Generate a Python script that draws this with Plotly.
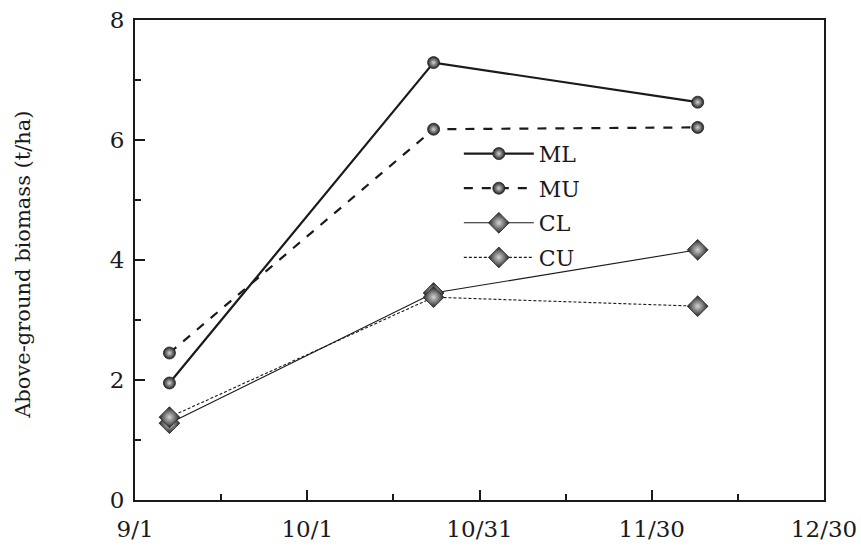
import plotly.graph_objects as go

dates = ["2023-09-07", "2023-10-23", "2023-12-08"]
series_names = ["ML", "MU", "CL", "CU"]
ml = [1.95, 7.29, 6.63]
mu = [2.45, 6.18, 6.21]
cl = [1.28, 3.45, 4.17]
cu = [1.38, 3.38, 3.23]

tick_dates = ["2023-09-01", "2023-10-01", "2023-10-31", "2023-11-30", "2023-12-30"]
tick_labels = ["9/1", "10/1", "10/31", "11/30", "12/30"]
minor_dates = ["2023-09-16", "2023-10-16", "2023-11-15", "2023-12-15"]

font = "DejaVu Serif"
styles = {
    "ML": dict(dash="solid", width=2.2, symbol="circle", size=12),
    "MU": dict(dash="dash", width=2.2, symbol="circle", size=12),
    "CL": dict(dash="solid", width=1.1, symbol="diamond", size=16),
    "CU": dict(dash="3px,2px", width=1.1, symbol="diamond", size=16),
}

fig = go.Figure()
for name, vals in zip(series_names, [ml, mu, cl, cu]):
    s = styles[name]
    fig.add_trace(go.Scatter(
        x=dates, y=vals, name=name, mode="lines+markers", legendgroup=name,
        line=dict(color="#1a1a1a", width=s["width"], dash=s["dash"]),
        marker=dict(symbol=s["symbol"], size=s["size"], color="#222222",
                    gradient=dict(type="radial", color="#d4d4d4"),
                    line=dict(color="#222222", width=0.8)),
    ))

fig.update_layout(
    width=861, height=547,
    margin=dict(l=135, r=37, t=20, b=47),
    paper_bgcolor="white", plot_bgcolor="white",
    font=dict(family=font, size=22, color="#1a1a1a"),
    showlegend=True,
    legend=dict(x=0.47, y=0.765, xanchor="left", yanchor="top",
                bgcolor="rgba(0,0,0,0)", font=dict(size=22, family=font),
                itemwidth=70, tracegroupgap=3),
    xaxis=dict(type="date", range=["2023-09-01", "2023-12-30"], automargin=False,
               tickvals=tick_dates, ticktext=tick_labels,
               showgrid=False, zeroline=False, showline=True, mirror=True,
               linecolor="#1a1a1a", linewidth=2,
               ticks="inside", ticklen=10, tickwidth=1.5, tickcolor="#1a1a1a",
               minor=dict(tickvals=minor_dates, ticks="inside", ticklen=6,
                          tickwidth=1.5, tickcolor="#1a1a1a"),
               ticklabelstandoff=7,
               tickfont=dict(size=23, family=font)),
    yaxis=dict(range=[0, 8], tickvals=[0, 2, 4, 6, 8], automargin=False,
               showgrid=False, zeroline=False, showline=True, mirror=True,
               linecolor="#1a1a1a", linewidth=2,
               ticks="inside", ticklen=10, tickwidth=1.5, tickcolor="#1a1a1a",
               minor=dict(tickvals=[1, 3, 5, 7], ticks="inside", ticklen=6,
                          tickwidth=1.5, tickcolor="#1a1a1a"),
               ticklabelstandoff=4,
               tickfont=dict(size=23, family=font)),
    annotations=[dict(text="Above-ground biomass (t/ha)", textangle=-90,
                      xref="paper", yref="paper", x=0, y=0.49,
                      xanchor="center", yanchor="middle", xshift=-112,
                      showarrow=False, font=dict(size=21, family=font))],
)

fig.write_html("out.html", config={"displayModeBar": False},
               post_script="document.body.style.margin='0';")
